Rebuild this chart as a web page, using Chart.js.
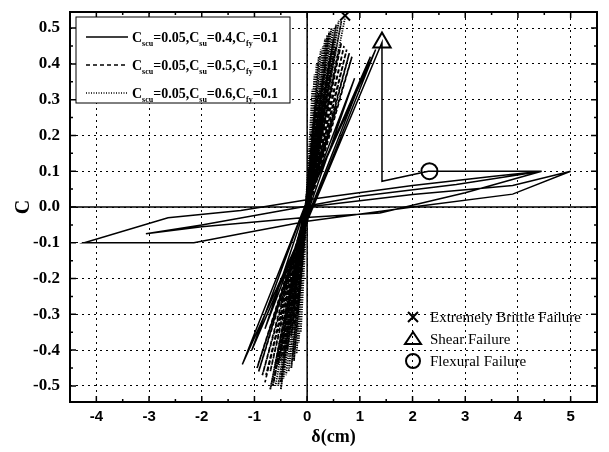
<!DOCTYPE html>
<html lang="en">
  <head>
    <meta charset="UTF-8" />
    <title>Hysteresis curves</title>
    <script src="https://cdn.jsdelivr.net/npm/chart.js@4.4.1/dist/chart.umd.min.js"></script>
    <style>
      html, body { margin: 0; padding: 0; background: #fff; }
      #wrap { width: 609px; height: 452px; }
    </style>
  </head>
  <body>
    <div id="wrap"><canvas id="myChart" width="609" height="452"></canvas></div>

    <script>
      var xTicks = [-4, -3, -2, -1, 0, 1, 2, 3, 4, 5];
      var yTicks = [-0.5, -0.4, -0.3, -0.2, -0.1, 0, 0.1, 0.2, 0.3, 0.4, 0.5];

      // C_scu=0.05, C_su=0.4, C_fy=0.1 (solid)
      var seriesSu04 = [
        [0, 0], [0.55, 0.28], [-0.02, 0], [-0.5, -0.27], [0, -0.02],
        [0.9, 0.36], [-0.03, 0], [-0.8, -0.34], [0, -0.03],
        [1.2, 0.42], [-0.05, 0], [-1.05, -0.4], [0, -0.04],
        [1.3, 0.44], [-0.05, 0], [-1.23, -0.44], [0, -0.04],
        [1.42, 0.46], [1.42, 0.072], [2.3, 0.1], [3.2, 0.1], [4.45, 0.1],
        [2.83, 0.063], [1.0, 0.03], [-0.1, 0.0], [-2.0, -0.05], [-3.06, -0.075],
        [-2.0, -0.055], [-0.1, -0.03], [1.38, -0.017], [3.0, 0.04], [4.45, 0.1],
        [3.5, 0.085], [2.0, 0.06], [0, 0.02], [-1.26, -0.01], [-2.64, -0.03], [-4.23, -0.1],
        [-2.15, -0.1], [-1.26, -0.075], [0, -0.04], [2.0, 0.0], [3.9, 0.036], [5.0, 0.1],
        [3.9, 0.06], [2.0, 0.035], [0, 0.0]
      ];

      // C_scu=0.05, C_su=0.5, C_fy=0.1 (dashed)
      var seriesSu05 = [
        [0, 0], [0.15, 0.28], [-0.04, -0.01], [-0.18, -0.3], [0.01, 0],
        [0.22, 0.32], [-0.05, -0.02], [-0.25, -0.34], [0.01, 0],
        [0.3, 0.36], [-0.05, -0.02], [-0.3, -0.36], [0.02, 0],
        [0.35, 0.4], [-0.05, -0.02], [-0.38, -0.4], [0.02, 0],
        [0.42, 0.41], [-0.05, -0.03], [-0.45, -0.42], [0.02, 0],
        [0.45, 0.43], [-0.05, -0.03], [-0.5, -0.43], [0.02, 0],
        [0.52, 0.44], [-0.06, -0.03], [-0.55, -0.44], [0.02, 0],
        [0.55, 0.45], [-0.06, -0.03], [-0.62, -0.45], [0.02, 0],
        [0.6, 0.44], [-0.06, -0.03], [-0.7, -0.46], [0.02, 0],
        [0.65, 0.46], [-0.06, -0.03], [-0.78, -0.47], [0.02, -0.01],
        [0.7, 0.45], [-0.07, -0.04], [-0.85, -0.47], [0.02, -0.01],
        [0.75, 0.44], [-0.07, -0.04], [-0.92, -0.46], [0.02, -0.01],
        [0.8, 0.43], [-0.07, -0.04], [-0.95, -0.45], [0.02, -0.01],
        [0.85, 0.42], [-0.06, -0.03], [-0.65, -0.5], [0.01, 0],
        [0.5, 0.47], [-0.06, -0.03], [-0.8, -0.49]
      ];

      // C_scu=0.05, C_su=0.6, C_fy=0.1 (dotted)
      var seriesSu06 = [
        [0, 0], [0.1, 0.33], [-0.03, -0.01], [-0.12, -0.35], [0, 0],
        [0.14, 0.37], [-0.03, -0.01], [-0.16, -0.38], [0, 0],
        [0.18, 0.4], [-0.04, -0.02], [-0.2, -0.41], [0, 0],
        [0.22, 0.42], [-0.04, -0.02], [-0.25, -0.43], [0, 0],
        [0.26, 0.44], [-0.04, -0.02], [-0.3, -0.45], [0, 0],
        [0.3, 0.45], [-0.05, -0.02], [-0.35, -0.46], [0, 0],
        [0.34, 0.47], [-0.05, -0.02], [-0.4, -0.47], [0, 0],
        [0.38, 0.48], [-0.05, -0.02], [-0.45, -0.48], [0, 0],
        [0.42, 0.49], [-0.05, -0.03], [-0.5, -0.49], [0, 0],
        [0.46, 0.5], [-0.05, -0.03], [-0.55, -0.5], [0, 0],
        [0.5, 0.5], [-0.06, -0.03], [-0.6, -0.5], [0, 0],
        [0.55, 0.51], [-0.06, -0.03], [-0.65, -0.5], [0, 0],
        [0.6, 0.52], [-0.06, -0.03], [-0.7, -0.51], [0, 0],
        [0.65, 0.52], [-0.06, -0.03], [-0.5, -0.51], [0, 0],
        [0.72, 0.53]
      ];

      var brittlePoint = [[0.72, 0.535]];
      var shearPoint = [[1.42, 0.46]];
      var flexuralPoint = [[2.32, 0.1]];

      var legendRows = [
        ["0.05", "0.4", "0.1"],
        ["0.05", "0.5", "0.1"],
        ["0.05", "0.6", "0.1"]
      ];
      var markerLabels = ["Extremely Brittle Failure", "Shear Failure", "Flexural Failure"];

      function toXY(arr) {
        return arr.map(function (p) { return { x: p[0], y: p[1] }; });
      }

      var SERIF = "'Liberation Serif', 'Times New Roman', serif";
      var SANS = "'Liberation Sans', Arial, sans-serif";

      function lineSet(data, dash, width) {
        return {
          data: toXY(data),
          showLine: true,
          borderColor: "#000",
          borderWidth: width,
          borderDash: dash,
          pointRadius: 0,
          tension: 0,
          fill: false
        };
      }

      function markerSet(data, style, r) {
        return {
          data: toXY(data),
          showLine: false,
          pointStyle: style,
          pointRadius: r,
          pointBorderWidth: 2,
          pointBorderColor: "#000",
          pointBackgroundColor: "rgba(0,0,0,0)"
        };
      }

      // draw "C_sub" style text pieces left to right
      function drawRich(ctx, x, y, parts, size) {
        parts.forEach(function (p) {
          if (p.sub) {
            ctx.font = "bold " + Math.round(size * 0.55) + "px " + SERIF;
            ctx.fillText(p.t, x, y + size * 0.25);
          } else {
            ctx.font = "bold " + size + "px " + SERIF;
            ctx.fillText(p.t, x, y);
          }
          x += ctx.measureText(p.t).width;
        });
      }

      var framePlugin = {
        id: "frame",
        beforeDatasetsDraw: function (chart) {
          var ctx = chart.ctx, a = chart.chartArea;
          var sx = chart.scales.x, sy = chart.scales.y;
          ctx.save();
          ctx.strokeStyle = "#000";
          ctx.lineWidth = 1.5;
          ctx.beginPath();
          var x0 = sx.getPixelForValue(0), y0 = sy.getPixelForValue(0);
          ctx.moveTo(x0, a.top); ctx.lineTo(x0, a.bottom);
          ctx.moveTo(a.left, y0); ctx.lineTo(a.right, y0);
          ctx.stroke();
          ctx.restore();
        },
        afterDatasetsDraw: function (chart) {
          var ctx = chart.ctx, a = chart.chartArea;
          var sx = chart.scales.x, sy = chart.scales.y;
          ctx.save();
          ctx.strokeStyle = "#000";
          ctx.fillStyle = "#000";

          // inward tick marks on all four sides
          ctx.lineWidth = 1.5;
          ctx.beginPath();
          for (var v = -4.5; v <= 5.5; v += 0.5) {
            var px = sx.getPixelForValue(v);
            if (px <= a.left + 1 || px >= a.right - 1) continue;
            var len = Number.isInteger(v) ? 6 : 3;
            ctx.moveTo(px, a.bottom); ctx.lineTo(px, a.bottom - len);
            ctx.moveTo(px, a.top); ctx.lineTo(px, a.top + len);
          }
          for (var k = -10; k <= 10; k++) {
            var w = k * 0.05;
            var py = sy.getPixelForValue(w);
            var ln = (k % 2 === 0) ? 6 : 3;
            ctx.moveTo(a.left, py); ctx.lineTo(a.left + ln, py);
            ctx.moveTo(a.right, py); ctx.lineTo(a.right - ln, py);
          }
          ctx.stroke();

          // frame
          ctx.lineWidth = 2;
          ctx.strokeRect(a.left, a.top, a.right - a.left, a.bottom - a.top);

          // series legend box (top left)
          var bx = a.left + 6, by = a.top + 5, bw = 214, bh = 86;
          ctx.fillStyle = "#fff";
          ctx.fillRect(bx, by, bw, bh);
          ctx.lineWidth = 1;
          ctx.strokeRect(bx, by, bw, bh);
          ctx.fillStyle = "#000";
          var dashes = [[], [4, 3], [1, 1.5]];
          ctx.textBaseline = "alphabetic";
          ctx.textAlign = "left";
          legendRows.forEach(function (row, i) {
            var ry = by + 20 + i * 28;
            ctx.setLineDash(dashes[i]);
            ctx.lineWidth = i === 2 ? 1.6 : 1.4;
            ctx.beginPath();
            ctx.moveTo(bx + 10, ry); ctx.lineTo(bx + 52, ry);
            ctx.stroke();
            ctx.setLineDash([]);
            drawRich(ctx, bx + 56, ry + 5, [
              { t: "C" }, { t: "scu", sub: true }, { t: "=" + row[0] + ",C" },
              { t: "su", sub: true }, { t: "=" + row[1] + ",C" },
              { t: "fy", sub: true }, { t: "=" + row[2] }
            ], 14);
          });

          // failure marker legend (bottom right)
          var mx = 413, my = [317, 339, 361];
          ctx.lineWidth = 2;
          ctx.beginPath();
          ctx.moveTo(mx - 5, my[0] - 5); ctx.lineTo(mx + 5, my[0] + 5);
          ctx.moveTo(mx + 5, my[0] - 5); ctx.lineTo(mx - 5, my[0] + 5);
          ctx.moveTo(mx, my[1] - 7); ctx.lineTo(mx + 8, my[1] + 5);
          ctx.lineTo(mx - 8, my[1] + 5); ctx.closePath();
          ctx.stroke();
          ctx.beginPath();
          ctx.arc(mx, my[2], 7, 0, Math.PI * 2);
          ctx.stroke();
          ctx.font = "15px " + SERIF;
          ctx.textBaseline = "middle";
          markerLabels.forEach(function (t, i) {
            ctx.fillText(t, mx + 17, my[i] + 1);
          });
          ctx.restore();
        }
      };

      var ctx = document.getElementById("myChart").getContext("2d");
      var myChart = new Chart(ctx, {
        type: "scatter",
        data: {
          datasets: [
            lineSet(seriesSu04, [], 1.5),
            lineSet(seriesSu05, [4, 2.5], 1.7),
            lineSet(seriesSu06, [1.2, 1.2], 1.8),
            markerSet(brittlePoint, "crossRot", 7),
            markerSet(shearPoint, "triangle", 10),
            markerSet(flexuralPoint, "circle", 8)
          ]
        },
        options: {
          responsive: false,
          animation: false,
          layout: { padding: { top: 8, right: 10, left: 0, bottom: 0 } },
          plugins: {
            legend: { display: false },
            tooltip: { enabled: false }
          },
          scales: {
            x: {
              type: "linear",
              min: -4.5,
              max: 5.5,
              afterBuildTicks: function (scale) {
                scale.ticks = xTicks.map(function (v) { return { value: v }; });
              },
              afterFit: function (scale) {
                scale.height = 50;
                scale.paddingLeft = 0;
                scale.paddingRight = 0;
              },
              ticks: {
                color: "#000",
                padding: 6,
                font: { family: SANS, size: 15, weight: "bold" },
                callback: function (v) { return String(v); }
              },
              grid: { color: "#000", lineWidth: 1, drawTicks: false },
              border: { display: false, dash: [2, 4] },
              title: {
                display: true,
                text: "δ(cm)",
                color: "#000",
                padding: { top: 0, bottom: 4 },
                font: { family: SERIF, size: 18, weight: "bold" }
              }
            },
            y: {
              type: "linear",
              min: -0.545,
              max: 0.545,
              afterBuildTicks: function (scale) {
                scale.ticks = yTicks.map(function (v) { return { value: v }; });
              },
              afterFit: function (scale) {
                scale.width = 70;
                scale.paddingTop = 0;
                scale.paddingBottom = 0;
              },
              ticks: {
                color: "#000",
                padding: 10,
                font: { family: SERIF, size: 17, weight: "bold" },
                callback: function (v) { return v.toFixed(1); }
              },
              grid: { color: "#000", lineWidth: 1, drawTicks: false },
              border: { display: false, dash: [2, 4] },
              title: {
                display: true,
                text: "C",
                color: "#000",
                padding: { top: 12, bottom: 0 },
                font: { family: SERIF, size: 20, weight: "bold" }
              }
            }
          }
        },
        plugins: [framePlugin]
      });
    </script>
  </body>
</html>
